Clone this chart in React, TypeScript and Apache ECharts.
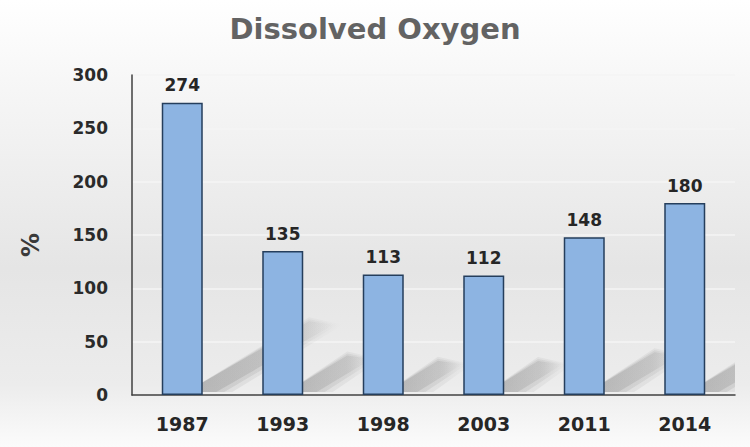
import React, { useEffect, useRef } from "react";
import * as echarts from "echarts";

const categories = ["1987", "1993", "1998", "2003", "2011", "2014"];
const values = [274, 135, 113, 112, 148, 180];
const titleText = "Dissolved Oxygen";
const yAxisName = "%";

const FONT = "DejaVu Sans";

export default function App() {
  const ref = useRef<HTMLDivElement>(null);
  useEffect(() => {
    if (!ref.current) return;
    const chart = echarts.init(ref.current, null, { renderer: "svg" });
    chart.setOption({
      animation: false,
      backgroundColor: {
        type: "linear",
        x: 0,
        y: 0,
        x2: 0,
        y2: 1,
        colorStops: [
          { offset: 0, color: "#ffffff" },
          { offset: 0.2, color: "#f6f6f6" },
          { offset: 0.6, color: "#e5e5e5" },
          { offset: 0.86, color: "#ececec" },
          { offset: 1, color: "#fbfbfb" },
        ],
      },
      title: {
        text: titleText,
        left: "center",
        top: 9,
        textStyle: {
          fontFamily: FONT,
          fontSize: 29,
          fontWeight: "bold",
          color: "#636363",
        },
      },
      graphic: [
        {
          type: "text",
          x: 31,
          y: 245,
          rotation: Math.PI / 2,
          style: {
            text: yAxisName,
            fontFamily: FONT,
            fontSize: 24,
            fontWeight: "bold",
            fill: "#3a3a3a",
            align: "center",
            verticalAlign: "middle",
          },
        },
      ],
      grid: { left: 132, right: 15, top: 75, bottom: 52 },
      xAxis: {
        type: "category",
        data: categories,
        axisLine: { show: true, lineStyle: { color: "#404040", width: 1.5 } },
        axisTick: { show: false },
        axisLabel: {
          margin: 19,
          fontFamily: FONT,
          fontSize: 19,
          fontWeight: "bold",
          color: "#262626",
        },
      },
      yAxis: {
        type: "value",
        min: 0,
        max: 300,
        interval: 50,
        axisLine: { show: true, lineStyle: { color: "#404040", width: 1.5 } },
        axisTick: { show: false },
        axisLabel: {
          margin: 24,
          fontFamily: FONT,
          fontSize: 17,
          fontWeight: "bold",
          color: "#2a2a2a",
        },
        splitLine: { show: true, lineStyle: { color: "#f5f5f5", width: 1.5 } },
      },
      series: [
        {
          type: "custom",
          clip: true,
          silent: true,
          z: 1,
          data: values.map((v, i) => [i, v]),
          encode: { x: 0, y: 1 },
          renderItem: (params: any, api: any) => {
            const idx = api.value(0);
            const val = api.value(1);
            const top = api.coord([idx, val]);
            const base = api.coord([idx, 0]);
            const h = base[1] - top[1];
            const x0 = base[0] + 4;
            const y0 = base[1] - 3;
            const sx = h * 0.42;
            const sy = h * 0.23;
            const layers = [
              { w: 30, a: 0.07 },
              { w: 22, a: 0.09 },
              { w: 14, a: 0.12 },
            ];
            return {
              type: "group",
              children: layers.map((l) => ({
                type: "polygon",
                shape: {
                  points: [
                    [x0, y0],
                    [x0 + 16 + l.w, y0],
                    [x0 + 16 + l.w * 0.6 + sx, y0 - sy],
                    [x0 + sx, y0 - sy - l.w * 0.25],
                  ],
                },
                style: {
                  fill: {
                    type: "linear",
                    x: 0,
                    y: 0,
                    x2: 1,
                    y2: 0,
                    colorStops: [
                      { offset: 0, color: `rgba(90,90,90,${l.a * 1.6})` },
                      { offset: 0.7, color: `rgba(90,90,90,${l.a})` },
                      { offset: 1, color: "rgba(90,90,90,0)" },
                    ],
                  },
                },
              })),
            };
          },
        },
        {
          type: "bar",
          data: values,
          barWidth: 41,
          z: 3,
          itemStyle: {
            color: "#8db4e2",
            borderColor: "#253e5c",
            borderWidth: 1.5,
          },
          label: {
            show: true,
            position: "top",
            distance: 9,
            fontFamily: FONT,
            fontSize: 17,
            fontWeight: "bold",
            color: "#262626",
          },
        },
      ],
    });
    return () => chart.dispose();
  }, []);
  return <div ref={ref} style={{ width: 750, height: 447, position: "absolute", left: 0, top: 0 }} />;
}
